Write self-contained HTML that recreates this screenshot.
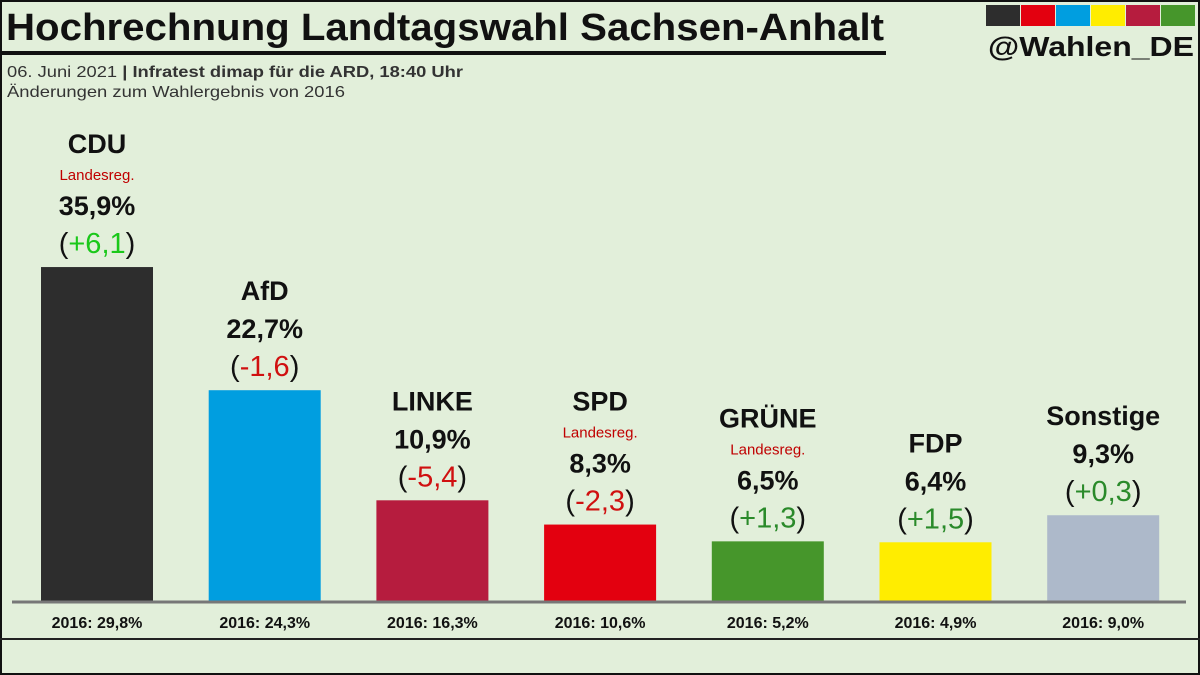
<!DOCTYPE html>
<html><head><meta charset="utf-8"><style>
body{margin:0;width:1200px;height:675px;overflow:hidden;background:#e2efda}
svg{display:block;font-family:"Liberation Sans",sans-serif}
</style></head><body>
<svg id="c" width="1200" height="675">
<rect x="1" y="1" width="1198" height="673" fill="#e2efda" stroke="#111" stroke-width="2"/>
<text x="6" y="40" font-size="38" font-weight="bold" textLength="878" lengthAdjust="spacingAndGlyphs" fill="#111">Hochrechnung Landtagswahl Sachsen-Anhalt</text>
<rect x="0" y="51" width="886" height="4" fill="#111"/>
<text x="7" y="77" font-size="16" fill="#333" textLength="456" lengthAdjust="spacingAndGlyphs">06. Juni 2021 <tspan font-weight="bold">| Infratest dimap für die ARD, 18:40 Uhr</tspan></text>
<text x="7" y="97" font-size="16" fill="#333" textLength="338" lengthAdjust="spacingAndGlyphs">Änderungen zum Wahlergebnis von 2016</text>
<g>
<rect x="986" y="5" width="34" height="21" fill="#2d2d2d"/><rect x="1021" y="5" width="34" height="21" fill="#e3000f"/><rect x="1056" y="5" width="34" height="21" fill="#009ee0"/><rect x="1091" y="5" width="34" height="21" fill="#ffed00"/><rect x="1126" y="5" width="34" height="21" fill="#b61c3e"/><rect x="1161" y="5" width="34" height="21" fill="#46962b"/>
</g>
<text x="1091" y="56" font-size="28" font-weight="bold" text-anchor="middle" textLength="206" lengthAdjust="spacingAndGlyphs" fill="#111">@Wahlen_DE</text>
<g id="bars"></g>
<line x1="12" y1="602" x2="1186" y2="602" stroke="#777" stroke-width="3"/>
<line x1="0" y1="639" x2="1200" y2="639" stroke="#222" stroke-width="2"/>
</svg>
<script>
const parties=["CDU","AfD","LINKE","SPD","GRÜNE","FDP","Sonstige"];
const values=[35.9,22.7,10.9,8.3,6.5,6.4,9.3];
const changes=[6.1,-1.6,-5.4,-2.3,1.3,1.5,0.3];
const prev=["29,8","24,3","16,3","10,6","5,2","4,9","9,0"];
const gov=[true,false,false,true,true,false,false];
const colors=["#2d2d2d","#009ee0","#b61c3e","#e3000f","#46962b","#ffed00","#adb9ca"];
const base=602,ppu=9.33,x0=41,step=167.7,bw=112;
const y=v=>base-v*ppu, x=i=>x0+i*step;
const fmt=v=>v.toFixed(1).replace('.',',');
const g=document.getElementById('bars'),NS='http://www.w3.org/2000/svg';
function t(txt,cx,cy,size,weight,fill){const e=document.createElementNS(NS,'text');e.setAttribute('x',cx);e.setAttribute('y',cy);e.setAttribute('font-size',size);e.setAttribute('font-weight',weight);e.setAttribute('fill',fill);e.setAttribute('text-anchor','middle');e.textContent=txt;g.appendChild(e);return e;}
parties.forEach((p,i)=>{
 const r=document.createElementNS(NS,'rect');
 r.setAttribute('x',x(i));r.setAttribute('y',y(values[i]));r.setAttribute('width',bw);r.setAttribute('height',base-y(values[i]));r.setAttribute('fill',colors[i]);
 
 
 g.appendChild(r);
 const cx=x(i)+bw/2,top=y(values[i]);
 const c=changes[i];
 const cc=c<0?'#d01010':(c>5?'#1ac81a':'#2a8a2a');
 const ch=t('',cx,top-14,29,'normal','#111');
 ch.innerHTML='(<tspan fill="'+cc+'">'+(c>0?'+':'')+fmt(c)+'</tspan>)';
 
 
 const pc=t(fmt(values[i])+'%',cx,top-52,27,'bold','#111');
 
 
 let ny=top-90;
 if(gov[i]){const l=t('Landesreg.',cx,top-87,15,'normal','#c00000');
  
  
  ny=top-114;}
 const n=t(p,cx,ny,27,'bold','#111');
 
 
 const pv=t('2016: '+prev[i]+'%',cx,628,16,'bold','#111');
 
 
});
</script>
</body></html>
